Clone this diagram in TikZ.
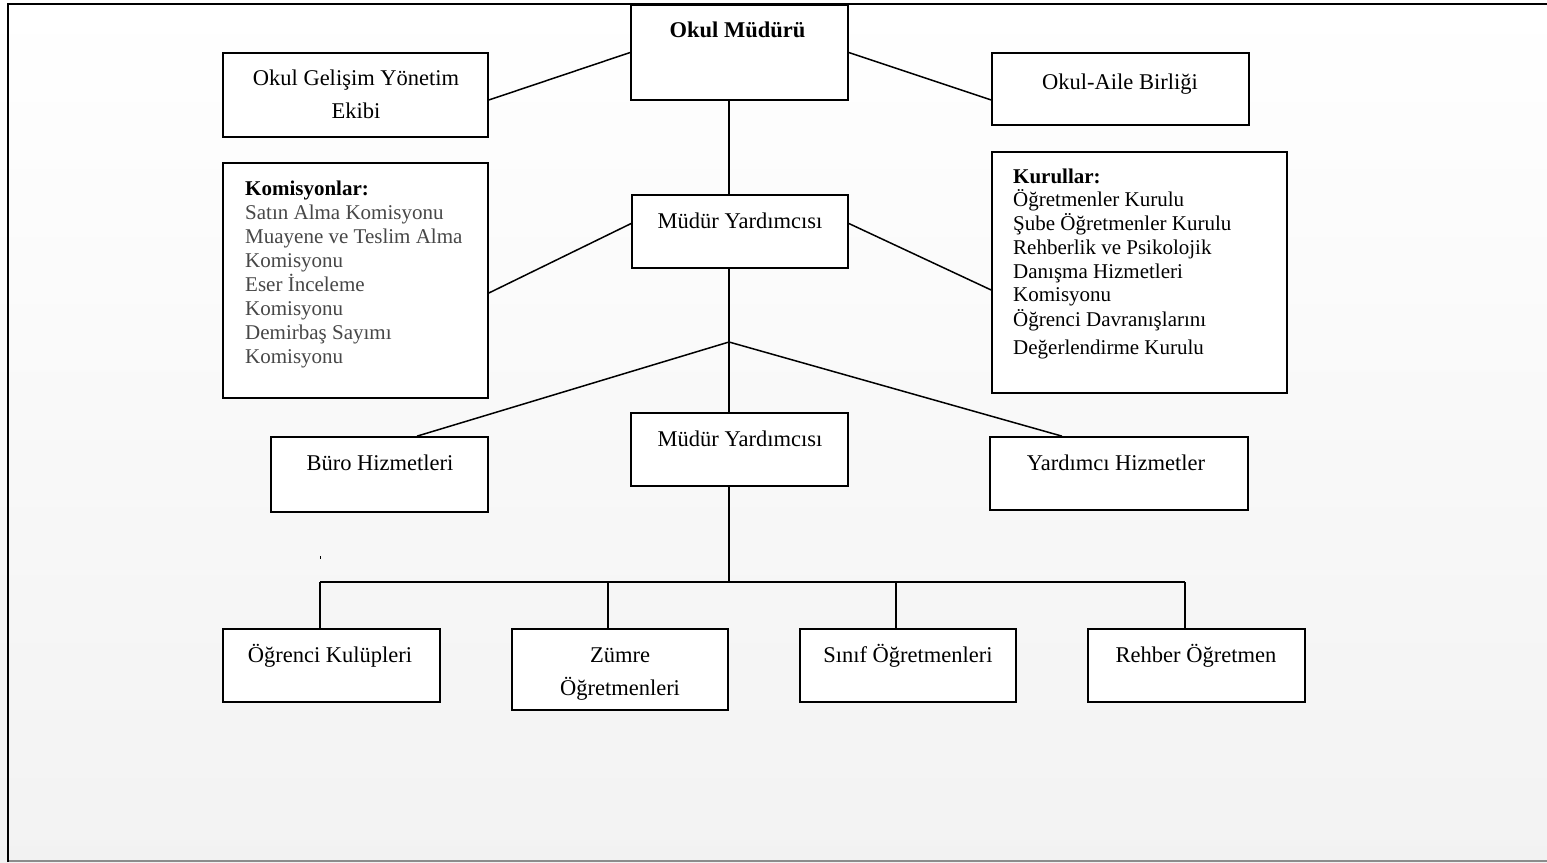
\documentclass[tikz,border=0pt]{standalone}
\usepackage{fontspec}
\setmainfont{Liberation Serif}
\usetikzlibrary{calc,shadows}
\begin{document}
\begin{tikzpicture}[x=1pt,y=-1pt,
  box/.style={draw=black,line width=1.7pt,fill=white,rectangle,inner sep=0pt,
    drop shadow={shadow xshift=0.6pt,shadow yshift=-1.4pt,fill=black!45,opacity=1}},
  conn/.style={line width=1.5pt,draw=black},
  lbl/.style={font=\fontsize{22.5}{26}\selectfont,inner sep=0pt,anchor=base},
  lst/.style={font=\fontsize{21}{24}\selectfont,inner sep=0pt,anchor=base west},
  grey/.style={text=black!72}]
% background and frame
\shade[top color=white,bottom color=black!5] (0,0) rectangle (1547,862);
\useasboundingbox (0,0) rectangle (1547,862);
\draw[line width=2pt,draw=black!45] (8,860.5) -- (1547,860.5);
\draw[line width=2.6pt] (8,862) -- (8,4) -- (1547,4);
\fill (319.5,555.5) rectangle (320.8,558.5);
% boxes
\node[box,minimum width=217pt,minimum height=95pt] (om) at (739.5,52.5) {};
\node[box,minimum width=265pt,minimum height=84pt] (ogye) at (355.5,95) {};
\node[box,minimum width=257pt,minimum height=72pt] (oab) at (1120.5,89) {};
\node[box,minimum width=265pt,minimum height=235pt] (kom) at (355.5,280.5) {};
\node[box,minimum width=216pt,minimum height=73pt] (my1) at (740,231.5) {};
\node[box,minimum width=295pt,minimum height=241pt] (kur) at (1139.5,272.5) {};
\node[box,minimum width=217pt,minimum height=75pt] (buro) at (379.5,474.5) {};
\node[box,minimum width=217pt,minimum height=73pt] (my2) at (739.5,449.5) {};
\node[box,minimum width=258pt,minimum height=73pt] (yh) at (1119,473.5) {};
\node[box,minimum width=217pt,minimum height=73pt] (ok) at (331.5,665.5) {};
\node[box,minimum width=216pt,minimum height=81pt] (zo) at (620,669.5) {};
\node[box,minimum width=216pt,minimum height=73pt] (so) at (908,665.5) {};
\node[box,minimum width=217pt,minimum height=73pt] (ro) at (1196.5,665.5) {};
% labels
\node[lbl,font=\fontsize{22.5}{26}\selectfont\bfseries] (tom) at (737.5,37) {Okul Müdürü};
\node[lbl] (togye1) at (356,85) {Okul Gelişim Yönetim};
\node[lbl] (togye2) at (356,118) {Ekibi};
\node[lbl] (toab) at (1120,89) {Okul-Aile Birliği};
\node[lbl] (tmy1) at (740,228) {Müdür Yardımcısı};
\node[lbl] (tburo) at (380,470) {Büro Hizmetleri};
\node[lbl] (tmy2) at (740,446) {Müdür Yardımcısı};
\node[lbl] (tyh) at (1116,470) {Yardımcı Hizmetler};
\node[lbl] (tok) at (330,662) {Öğrenci Kulüpleri};
\node[lbl] (tzo1) at (620,662) {Zümre};
\node[lbl] (tzo2) at (620,695) {Öğretmenleri};
\node[lbl] (tso) at (908,662) {Sınıf Öğretmenleri};
\node[lbl] (tro) at (1196,662) {Rehber Öğretmen};
% Komisyonlar list
\node[lst,font=\fontsize{21}{24}\selectfont\bfseries] (c1) at (245,195) {Komisyonlar:};
\node[lst,grey] (c2) at (245,219) {Satın Alma Komisyonu};
\node[lst,grey] (c3) at (245,243) {Muayene ve Teslim Alma};
\node[lst,grey] (c4) at (245,267) {Komisyonu};
\node[lst,grey] (c5) at (245,291) {Eser İnceleme};
\node[lst,grey] (c6) at (245,315) {Komisyonu};
\node[lst,grey] (c7) at (245,339) {Demirbaş Sayımı};
\node[lst,grey] (c8) at (245,363) {Komisyonu};
% Kurullar list
\node[lst,font=\fontsize{21}{24}\selectfont\bfseries] (k1) at (1013,183) {Kurullar:};
\node[lst] (k2) at (1013,206) {Öğretmenler Kurulu};
\node[lst] (k3) at (1013,230) {Şube Öğretmenler Kurulu};
\node[lst] (k4) at (1013,254) {Rehberlik ve Psikolojik};
\node[lst] (k5) at (1013,278) {Danışma Hizmetleri};
\node[lst] (k6) at (1013,301) {Komisyonu};
\node[lst] (k7) at (1013,326) {Öğrenci Davranışlarını};
\node[lst] (k8) at (1013,354) {Değerlendirme Kurulu};
% connectors
\coordinate (spine) at (729,0);
\coordinate (J) at (729,342);
\coordinate (b1) at (320,582);
\coordinate (b2) at (608,582);
\coordinate (b3) at (896,582);
\coordinate (b4) at (1185,582);
\begin{scope}[on background layer/.style={}]
\draw[conn] (om.west) -- ($(ogye.east)+(0,5)$);
\draw[conn] (om.east) -- ($(oab.west)+(0,11)$);
\draw[conn] (om.south -| spine) -- (my1.north -| spine);
\draw[conn] ($(my1.west)+(0,-8)$) -- ($(kom.east)+(0,12.5)$);
\draw[conn] ($(my1.east)+(0,-8)$) -- ($(kur.west)+(0,17.5)$);
\draw[conn] (my1.south -| spine) -- (J);
\draw[conn] (J) -- ($(buro.north)+(37.5,0)$);
\draw[conn] (J) -- (my2.north -| spine);
\draw[conn] (J) -- ($(yh.north)+(-57,0)$);
\draw[conn] (my2.south -| spine) -- (spine |- b1);
\draw[conn] (b1) -- (b4);
\draw[conn] (b1) -- (b1 |- ok.north);
\draw[conn] (b2) -- (b2 |- zo.north);
\draw[conn] (b3) -- (b3 |- so.north);
\draw[conn] (b4) -- (b4 |- ro.north);
\end{scope}
\end{tikzpicture}
\end{document}
